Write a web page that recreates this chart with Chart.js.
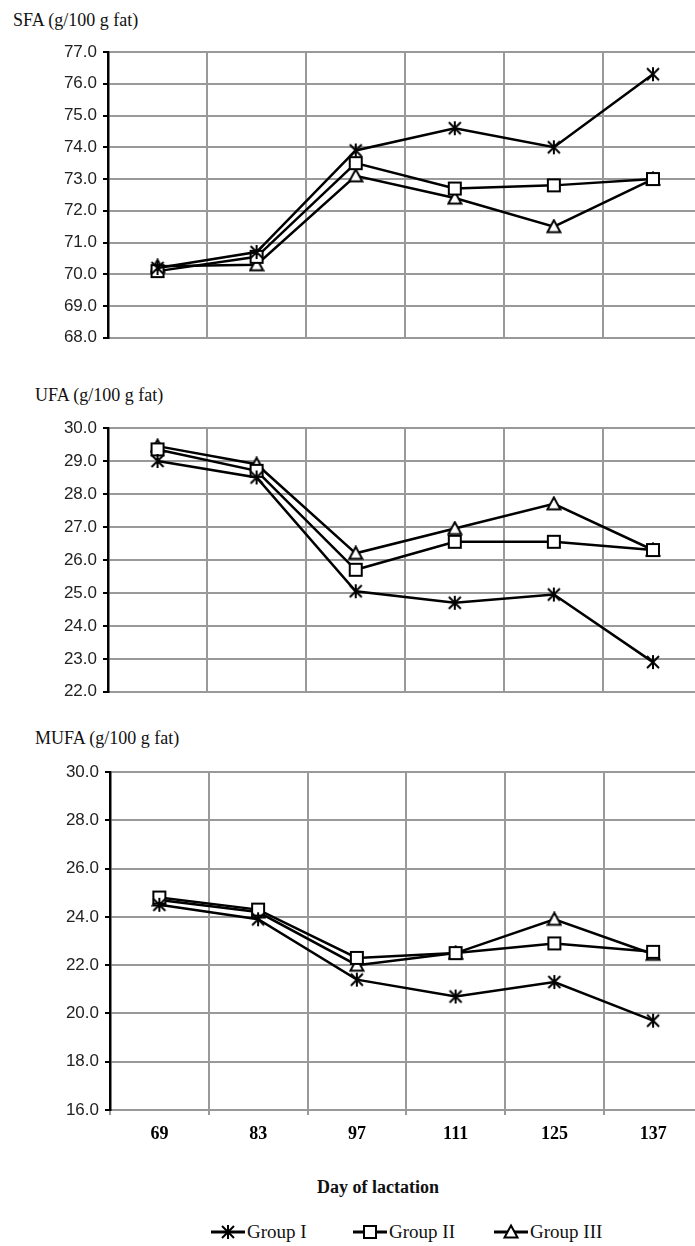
<!DOCTYPE html>
<html>
<head>
<meta charset="utf-8">
<script src="https://cdn.jsdelivr.net/npm/chart.js@4"></script>
<style>
    body { margin: 0; width: 695px; height: 1246px; overflow: hidden; background: #fff; position: relative; }
    canvas.chart { position: absolute; left: 0; }
    .title { position: absolute; font-family: "Liberation Serif", "Times New Roman", serif; font-size: 18px; line-height: 22px; color: #111; white-space: nowrap; }
    .axis-title { position: absolute; left: 0; width: 756px; text-align: center; font-family: "Liberation Serif", "Times New Roman", serif; font-weight: bold; font-size: 18px; line-height: 22px; color: #111; }
    .legend-item { position: absolute; display: flex; align-items: center; font-family: "Liberation Serif", "Times New Roman", serif; font-size: 19px; line-height: 22px; color: #111; white-space: nowrap; }
    .legend-item canvas { margin-right: 1px; }
</style>
</head>
<body>

<div class="title" style="left:13px; top:9px;">SFA (g/100 g fat)</div>
<canvas id="sfaChart" class="chart" width="712" height="324" style="top:30px;"></canvas>

<div class="title" style="left:35px; top:384px;">UFA (g/100 g fat)</div>
<canvas id="ufaChart" class="chart" width="712" height="302" style="top:406px;"></canvas>

<div class="title" style="left:35px; top:727px;">MUFA (g/100 g fat)</div>
<canvas id="mufaChart" class="chart" width="712" height="400" style="top:750px;"></canvas>

<div class="axis-title" style="top:1176px;">Day of lactation</div>

<div class="legend-item" style="left:210px; top:1221px;"><canvas id="leg0" width="36" height="18"></canvas>Group I</div>
<div class="legend-item" style="left:352px; top:1221px;"><canvas id="leg1" width="36" height="18"></canvas>Group II</div>
<div class="legend-item" style="left:493px; top:1221px;"><canvas id="leg2" width="36" height="18"></canvas>Group III</div>

<script>
// Days of lactation (x categories)
const days = ['69', '83', '97', '111', '125', '137'];
const groupNames = ['Group I', 'Group II', 'Group III'];

// SFA (g/100 g fat)
const sfaGroup1 = [70.2, 70.7, 73.9, 74.6, 74.0, 76.3];
const sfaGroup2 = [70.1, 70.55, 73.5, 72.7, 72.8, 73.0];
const sfaGroup3 = [70.25, 70.3, 73.1, 72.4, 71.5, 73.0];

// UFA (g/100 g fat)
const ufaGroup1 = [29.0, 28.5, 25.05, 24.7, 24.95, 22.9];
const ufaGroup2 = [29.35, 28.7, 25.7, 26.55, 26.55, 26.3];
const ufaGroup3 = [29.45, 28.9, 26.2, 26.95, 27.7, 26.3];

// MUFA (g/100 g fat)
const mufaGroup1 = [24.5, 23.9, 21.4, 20.7, 21.3, 19.7];
const mufaGroup2 = [24.8, 24.3, 22.3, 22.5, 22.9, 22.55];
const mufaGroup3 = [24.7, 24.2, 22.0, 22.5, 23.9, 22.45];

// Y axis ranges: [min, max, step]
const sfaRange = [68, 77, 1];
const ufaRange = [22, 30, 1];
const mufaRange = [16, 30, 2];

// Draw one marker shape centred on (cx, cy)
function drawMarker(c, kind, cx, cy) {
    c.strokeStyle = '#000';
    c.fillStyle = '#fff';
    c.lineWidth = 2;
    if (kind === 0) {
        // asterisk: vertical bar + X
        c.beginPath();
        c.moveTo(cx, cy - 7); c.lineTo(cx, cy + 7);
        c.moveTo(cx - 6, cy - 6); c.lineTo(cx + 6, cy + 6);
        c.moveTo(cx + 6, cy - 6); c.lineTo(cx - 6, cy + 6);
        c.stroke();
    } else if (kind === 1) {
        c.fillRect(cx - 6, cy - 6, 12, 12);
        c.strokeRect(cx - 6, cy - 6, 12, 12);
    } else {
        c.beginPath();
        c.moveTo(cx, cy - 6.5);
        c.lineTo(cx + 6.5, cy + 5.5);
        c.lineTo(cx - 6.5, cy + 5.5);
        c.closePath();
        c.fill();
        c.stroke();
    }
}

// Point style images (Chart.js draws them centred on each point)
function makeMarker(kind) {
    const cv = document.createElement('canvas');
    cv.width = 16;
    cv.height = 16;
    drawMarker(cv.getContext('2d'), kind, 8, 8);
    return cv;
}
const markers = [makeMarker(0), makeMarker(1), makeMarker(2)];

function buildDatasets(series) {
    return series.map((values, i) => ({
        label: groupNames[i],
        data: values,
        borderColor: '#000',
        borderWidth: 2.5,
        fill: false,
        tension: 0,
        pointStyle: markers[i],
        pointRadius: 7,
        pointHoverRadius: 7
    }));
}

function makeChart(id, series, range, showX, left) {
    const ctx = document.getElementById(id).getContext('2d');
    return new Chart(ctx, {
        type: 'line',
        data: { labels: days, datasets: buildDatasets(series) },
        options: {
            responsive: false,
            animation: false,
            events: [],
            layout: { padding: { left: 0, right: 6, top: 22, bottom: showX ? 0 : 12 } },
            plugins: { legend: { display: false }, tooltip: { enabled: false } },
            scales: {
                x: {
                    offset: true,
                    grid: { offset: true, color: '#999', lineWidth: 2, drawTicks: showX, tickLength: 5, tickColor: '#999', tickWidth: 2 },
                    border: { color: '#999', width: 2 },
                    ticks: {
                        display: showX,
                        autoSkip: false,
                        maxRotation: 0,
                        padding: 9,
                        color: '#000',
                        font: { family: '"Liberation Serif", "Times New Roman", serif', size: 18, weight: 'bold' }
                    },
                    afterFit: s => { s.height = showX ? 40 : 0; }
                },
                y: {
                    min: range[0],
                    max: range[1],
                    ticks: {
                        stepSize: range[2],
                        padding: 6,
                        color: '#222',
                        font: { family: '"Liberation Sans", Arial, sans-serif', size: 17 },
                        callback: v => Number(v).toFixed(1)
                    },
                    grid: { color: '#999', lineWidth: 2, tickLength: 5, tickColor: '#000', tickWidth: 2 },
                    border: { color: '#000', width: 2.5 },
                    afterFit: s => { s.width = left; }
                }
            }
        }
    });
}

makeChart('sfaChart', [sfaGroup1, sfaGroup2, sfaGroup3], sfaRange, false, 108);
makeChart('ufaChart', [ufaGroup1, ufaGroup2, ufaGroup3], ufaRange, false, 108);
makeChart('mufaChart', [mufaGroup1, mufaGroup2, mufaGroup3], mufaRange, true, 110);

// Legend symbols: line with marker in the middle
for (let i = 0; i < 3; i++) {
    const c = document.getElementById('leg' + i).getContext('2d');
    c.strokeStyle = '#000';
    c.lineWidth = 3;
    c.beginPath();
    c.moveTo(1, 9);
    c.lineTo(35, 9);
    c.stroke();
    drawMarker(c, i, 18, 9);
}
</script>
</body>
</html>
